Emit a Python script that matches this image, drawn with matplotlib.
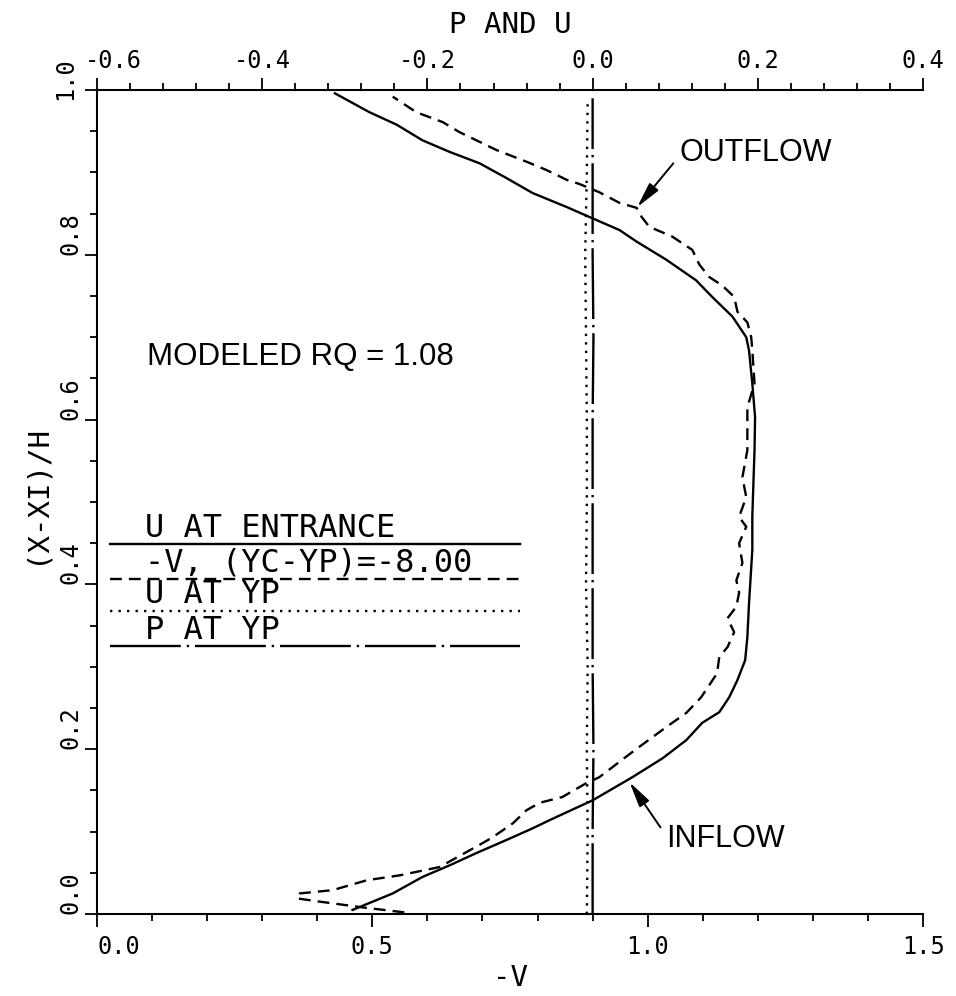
# Velocity / pressure profiles at entrance and at YP
import numpy as np
import matplotlib.pyplot as plt

plt.rcParams['axes.unicode_minus'] = False

MONO = 'DejaVu Sans Mono'
SANS = 'Liberation Sans'

# U at entrance (inflow), in -V units, vs (X-XI)/H
y_in = [0.005, 0.025, 0.045, 0.059, 0.074, 0.090, 0.104, 0.114, 0.138, 0.166,
        0.189, 0.211, 0.232, 0.245, 0.263, 0.284, 0.308, 0.336, 0.377, 0.442,
        0.482, 0.523, 0.563, 0.603, 0.644, 0.684, 0.700, 0.725, 0.749, 0.769,
        0.794, 0.816, 0.830, 0.846, 0.858, 0.875, 0.893, 0.911, 0.925, 0.939,
        0.958, 0.973, 0.996]
v_in = [0.464, 0.537, 0.591, 0.640, 0.689, 0.744, 0.791, 0.822, 0.900, 0.972,
        1.027, 1.070, 1.099, 1.130, 1.148, 1.163, 1.177, 1.181, 1.184, 1.190,
        1.190, 1.192, 1.194, 1.195, 1.190, 1.184, 1.179, 1.154, 1.117, 1.088,
        1.034, 0.980, 0.949, 0.894, 0.853, 0.791, 0.744, 0.695, 0.640, 0.591,
        0.544, 0.495, 0.432]

# -V at (YC-YP)=-8.00 (outflow)
y_out = [0.002, 0.008, 0.015, 0.019, 0.025, 0.029, 0.041, 0.047, 0.057, 0.086,
         0.093, 0.110, 0.126, 0.135, 0.142, 0.159, 0.166, 0.191, 0.203, 0.227,
         0.244, 0.263, 0.278, 0.292, 0.312, 0.324, 0.342, 0.359, 0.373, 0.390,
         0.405, 0.426, 0.450, 0.470, 0.482, 0.506, 0.530, 0.563, 0.584, 0.615,
         0.644, 0.684, 0.700, 0.718, 0.731, 0.749, 0.763, 0.773, 0.788, 0.806,
         0.822, 0.834, 0.846, 0.857, 0.863, 0.876, 0.886, 0.891, 0.903, 0.913,
         0.927, 0.949, 0.961, 0.973, 0.992]
v_out = [0.558, 0.483, 0.405, 0.363, 0.368, 0.428, 0.490, 0.550, 0.622, 0.700,
         0.718, 0.755, 0.780, 0.804, 0.845, 0.889, 0.912, 0.961, 0.985, 1.034,
         1.070, 1.097, 1.112, 1.126, 1.130, 1.145, 1.157, 1.145, 1.161, 1.166,
         1.161, 1.172, 1.166, 1.179, 1.166, 1.179, 1.172, 1.181, 1.181, 1.181,
         1.194, 1.190, 1.188, 1.181, 1.163, 1.157, 1.135, 1.112, 1.094, 1.081,
         1.045, 1.003, 0.989, 0.980, 0.949, 0.912, 0.876, 0.853, 0.816, 0.780,
         0.726, 0.658, 0.628, 0.580, 0.537]

# U and P at YP, in P AND U units
y_yp = [0.0, 0.1, 0.2, 0.3, 0.4, 0.5, 0.6, 0.7, 0.8, 0.9, 0.99]
u_yp = [-0.007, -0.006, -0.007, -0.006, -0.008, -0.007, -0.007, -0.008, -0.009, -0.007, -0.006]
p_yp = [0.000, 0.000, 0.001, 0.000, 0.000, 0.000, 0.000, 0.001, 0.000, 0.000, 0.000]

y_ticks = [0.0, 0.2, 0.4, 0.6, 0.8, 1.0]
y_ticklabels = ['0.0', '0.2', '0.4', '0.6', '0.8', '1.0']
top_ticks = [-0.6, -0.4, -0.2, 0.0, 0.2, 0.4]
top_ticklabels = ['-0.6', '-0.4', '-0.2', '0.0', '0.2', '0.4']
legend_labels = ['U AT ENTRANCE', '-V, (YC-YP)=-8.00', 'U AT YP', 'P AT YP']

fig = plt.figure(figsize=(9.56, 9.96), dpi=100)
ax = fig.add_axes([0.1015, 0.0823, 0.864, 0.8273])
ax2 = ax.twiny()

lw = 1.7
styles = [dict(linestyle='-'),
          dict(dashes=(5, 3)),
          dict(dashes=(1, 2.6)),
          dict(dashes=(30, 2.5, 1, 2.5))]

ax.plot(v_in, y_in, color='k', lw=lw, **styles[0])
ax.plot(v_out, y_out, color='k', lw=lw, **styles[1])
ax2.plot(u_yp, y_yp, color='k', lw=lw, **styles[2])
ax2.plot(p_yp, y_yp, color='k', lw=lw, **styles[3])

# axes limits and ticks
ax.set_xlim(0, 1.5)
ax.set_ylim(0, 1)
ax2.set_xlim(-0.6, 0.4)

ax.set_xticks([0.0, 0.5, 1.0, 1.5])
ax.set_xticklabels(['0.0', '0.5', '1.0', '1.5'], family=MONO, fontsize=17)
ax.get_xticklabels()[0].set_ha('left')
ax.set_xticks(np.arange(0, 1.51, 0.1), minor=True)

# corner labels (1.0 and -0.6) are nudged apart, drawn separately
ax.set_yticks(y_ticks)
ax.set_yticklabels(y_ticklabels[:-1] + [''], family=MONO, fontsize=17,
                   rotation=90, rotation_mode='anchor', ha='left', va='baseline')
ax.text(-0.03, y_ticks[-1] - 0.012, y_ticklabels[-1], transform=ax.get_yaxis_transform(),
        family=MONO, fontsize=17, rotation=90, rotation_mode='anchor',
        ha='left', va='baseline')
ax.set_yticks(np.arange(0, 1.001, 0.05), minor=True)
ax2.set_xticks(top_ticks)
ax2.set_xticklabels([''] + top_ticklabels[1:], family=MONO, fontsize=17)
ax2.annotate(top_ticklabels[0], xy=(top_ticks[0], 1.0), xycoords=ax2.get_xaxis_transform(),
             xytext=(-9, 12), textcoords='offset points', family=MONO, fontsize=17,
             ha='left', va='bottom')
ax2.set_xticks(np.arange(-0.6, 0.401, 0.04), minor=True)

ax.tick_params(which='major', direction='out', length=9, width=1.3)
ax.tick_params(which='minor', direction='out', length=5, width=1.3)
ax.tick_params(axis='x', pad=6)
ax.tick_params(axis='y', pad=5)
ax2.tick_params(which='major', direction='out', length=9, width=1.3, pad=3)
ax2.tick_params(which='minor', direction='out', length=5, width=1.3)

for s in ['top', 'right']:
    ax.spines[s].set_visible(False)
for s in ['bottom', 'left', 'right']:
    ax2.spines[s].set_visible(False)
for s in ax.spines.values():
    s.set_linewidth(1.5)
ax2.spines['top'].set_linewidth(1.5)

ax.set_xlabel('-V', family=MONO, fontsize=21, labelpad=4)
ax.set_ylabel('(X-XI)/H', family=MONO, fontsize=21)
ax.yaxis.set_label_coords(-0.058, 0.51)
ax2.set_xlabel('P AND U', family=MONO, fontsize=21, labelpad=12)

# legend drawn as text over sample lines
leg_y = [0.449, 0.407, 0.368, 0.325]
for lbl, yy, st in zip(legend_labels, leg_y, styles):
    ax.plot([0.016, 0.512], [yy, yy], transform=ax.transAxes, color='k', lw=lw, **st)
    ax.text(0.058, yy + 0.009, lbl, transform=ax.transAxes, family=MONO,
            fontsize=23, va='baseline', ha='left')

ax.text(0.091, 0.676, 'MODELED RQ = 1.08', family=SANS, fontsize=22.5, va='center')

ax.annotate('OUTFLOW', xy=(0.981, 0.858), xytext=(1.058, 0.924), family=SANS,
            fontsize=22, ha='left', va='center',
            arrowprops=dict(arrowstyle='-|>,head_length=0.7,head_width=0.16', color='k',
                            lw=1.4, shrinkA=4, shrinkB=0, relpos=(0, 0.4)))
ax.annotate('INFLOW', xy=(0.967, 0.160), xytext=(1.034, 0.091), family=SANS,
            fontsize=22, ha='left', va='center',
            arrowprops=dict(arrowstyle='-|>,head_length=0.7,head_width=0.16', color='k',
                            lw=1.4, shrinkA=4, shrinkB=0, relpos=(0, 0.6)))

fig.savefig('out.png', dpi=100)
